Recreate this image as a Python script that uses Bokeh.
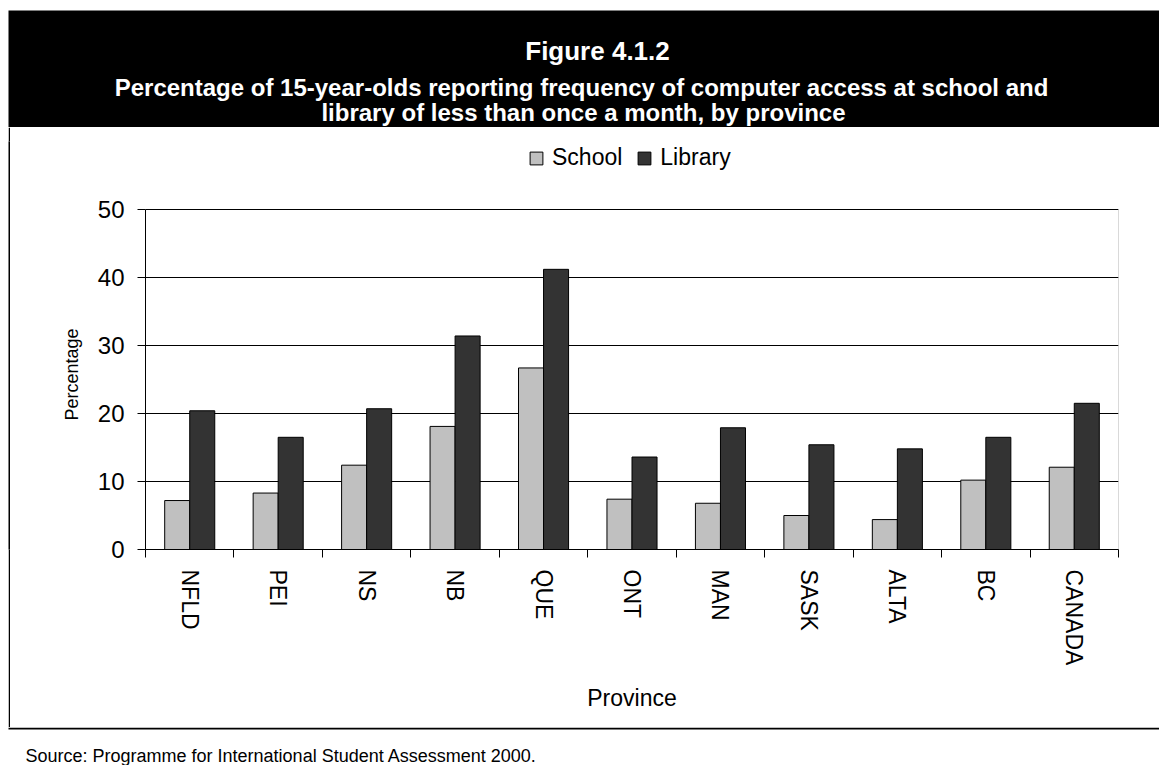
import math
from bokeh.plotting import figure
from bokeh.models import (Range1d, FixedTicker, Legend, LegendItem, ColumnDataSource,
                          BoxAnnotation, Title)
from bokeh.layouts import column, row
from bokeh.embed import file_html
from bokeh.resources import INLINE
from bokeh.core.properties import value

# ---------------- data ----------------
provinces = ["NFLD", "PEI", "NS", "NB", "QUE", "ONT", "MAN", "SASK", "ALTA", "BC", "CANADA"]
school = [7.2, 8.3, 12.4, 18.1, 26.7, 7.4, 6.8, 5.0, 4.4, 10.2, 12.1]
library = [20.4, 16.5, 20.7, 31.4, 41.2, 13.6, 17.9, 15.4, 14.8, 16.5, 21.5]
series_names = ["School", "Library"]
y_ticks = [0, 10, 20, 30, 40, 50]
y_max = 50
title_text = "Figure 4.1.2"
subtitle_lines = [
    "Percentage of 15-year-olds reporting frequency of computer access at school and",
    "library of less than once a month, by province",
]
x_title = "Province"
y_title = "Percentage"
source_text = "Source: Programme for International Student Assessment 2000."

FONT = "Liberation Sans"
SCHOOL_COLOR = "#C0C0C0"
LIBRARY_COLOR = "#333333"

# ---------------- header ----------------
header = figure(width=1159, height=127, x_range=Range1d(0, 1159), y_range=Range1d(127, 0),
                x_axis_type=None, y_axis_type=None, min_border=0,
                toolbar_location=None, output_backend="svg")
header.grid.visible = False
header.outline_line_color = None
header.quad(left=[8], right=[1159], top=[10], bottom=[127], fill_color="black", line_color=None)
header.text(x=[597], y=[50], text=[title_text], text_align="center", text_baseline="alphabetic",
            text_color="white", text_font=value(FONT), text_font_style="bold", text_font_size="26px")
header.text(x=[581, 583], y=[87, 112], text=subtitle_lines, text_align="center",
            text_baseline="alphabetic", text_color="white", text_font=value(FONT),
            text_font_style="bold", text_font_size="24px")

# ---------------- left border strip ----------------
strip = figure(width=2, height=600, x_axis_type=None, y_axis_type=None, min_border=0,
               toolbar_location=None, output_backend="svg", margin=(0, 0, 0, 8),
               background_fill_color="black", border_fill_color="black")
strip.grid.visible = False
strip.outline_line_color = None

# ---------------- chart ----------------
n = len(provinces)
idx = list(range(n))
bar_w = 0.283
src = ColumnDataSource(dict(
    xs=[i - bar_w / 2 for i in idx],
    xl=[i + bar_w / 2 for i in idx],
    school=school,
    library=library,
))

# the frame also holds the legend strip above the 0-50 plot box
chart = figure(width=1149, height=600, x_range=Range1d(-0.5, n - 0.5), y_range=Range1d(0, 60),
               min_border_left=135, min_border_right=41, min_border_top=14, min_border_bottom=178,
               toolbar_location=None, output_backend="svg")
chart.outline_line_color = None
chart.xgrid.visible = False
chart.ygrid.ticker = FixedTicker(ticks=y_ticks)
chart.ygrid.grid_line_color = "black"
chart.ygrid.grid_line_width = 1

r1 = chart.vbar(x="xs", top="school", bottom=0, width=bar_w, source=src,
                fill_color=SCHOOL_COLOR, line_color="black", line_width=1)
r2 = chart.vbar(x="xl", top="library", bottom=0, width=bar_w, source=src,
                fill_color=LIBRARY_COLOR, line_color="black", line_width=1)

# plot-area box (0..50)
chart.add_layout(BoxAnnotation(left=-0.5, right=n - 0.5, bottom=0, top=y_max,
                               fill_color=None, fill_alpha=0, line_color="black", line_width=1))

xa = chart.xaxis[0]
xa.ticker = FixedTicker(ticks=idx, minor_ticks=[i - 0.5 for i in range(n + 1)])
xa.major_label_overrides = {i: name for i, name in enumerate(provinces)}
xa.major_tick_line_color = None
xa.major_tick_out = 8
xa.major_tick_in = 0
xa.minor_tick_line_color = "black"
xa.minor_tick_out = 8
xa.minor_tick_in = 0
xa.axis_line_color = "black"
xa.major_label_orientation = -math.pi / 2
xa.major_label_standoff = 12
xa.major_label_text_font = FONT
xa.major_label_text_font_size = "23px"
xa.major_label_text_color = "black"
xa.axis_label = x_title
xa.axis_label_text_font = FONT
xa.axis_label_text_font_size = "23px"
xa.axis_label_text_font_style = "normal"
xa.axis_label_text_color = "black"
xa.axis_label_standoff = 17

ya = chart.yaxis[0]
ya.ticker = FixedTicker(ticks=y_ticks)
ya.bounds = (0, y_max)
ya.major_tick_out = 8
ya.major_tick_in = 0
ya.minor_tick_line_color = None
ya.major_tick_line_color = "black"
ya.axis_line_color = "black"
ya.major_label_standoff = 13
ya.major_label_text_font = FONT
ya.major_label_text_font_size = "24px"
ya.major_label_text_color = "black"

# y-axis title, centred on the 0-50 plot box rather than the whole frame
chart.add_layout(Title(text=y_title, align="left", offset=129, standoff=26,
                       text_font=FONT, text_font_size="18px", text_font_style="normal",
                       text_color="black"), "left")

legend = Legend(
    items=[LegendItem(label=series_names[0], renderers=[r1]),
           LegendItem(label=series_names[1], renderers=[r2])],
    orientation="horizontal", location=(383, 378), padding=0, margin=0, spacing=14,
    glyph_width=16, glyph_height=16, label_standoff=8, label_height=16,
    label_text_font=FONT, label_text_font_size="23px", label_text_color="black",
    border_line_color=None, background_fill_alpha=0,
)
chart.add_layout(legend, "center")

# ---------------- footer ----------------
footer = figure(width=1159, height=38, x_range=Range1d(0, 1159), y_range=Range1d(38, 0),
                x_axis_type=None, y_axis_type=None, min_border=0,
                toolbar_location=None, output_backend="svg")
footer.grid.visible = False
footer.outline_line_color = None
footer.quad(left=[8], right=[1159], top=[0], bottom=[2], fill_color="black", line_color=None)
footer.text(x=[25], y=[28], text=[source_text], text_align="left", text_baseline="alphabetic",
            text_color="black", text_font=value(FONT), text_font_size="18px")

layout = column(header, row(strip, chart, spacing=0), footer, spacing=0)

open("out.html", "w").write(file_html(layout, INLINE))
